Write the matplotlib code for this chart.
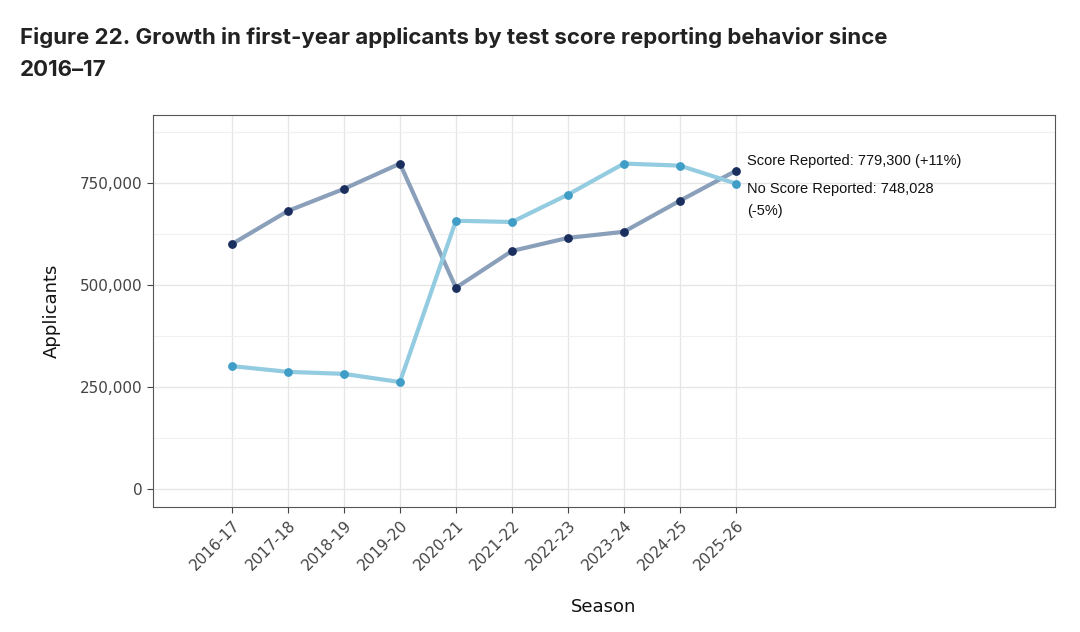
import matplotlib
matplotlib.use("Agg")
import matplotlib.pyplot as plt

seasons = ["2016-17", "2017-18", "2018-19", "2019-20", "2020-21",
           "2021-22", "2022-23", "2023-24", "2024-25", "2025-26"]
score_reported = [600000, 681000, 735000, 797000, 493000,
                  583000, 615000, 630000, 706000, 779300]
no_score = [301000, 287000, 282000, 262000, 657000,
            654000, 721000, 797000, 792000, 748028]

fig = plt.figure(figsize=(10.8, 6.32), dpi=100)
ax = fig.add_axes([153/1080, 1-507/632, (1055-153)/1080, (507-115)/632])

x = list(range(len(seasons)))
ax.plot(x, score_reported, color="#8a9fba", lw=3, zorder=2)
ax.scatter(x, score_reported, color="#1b2f5f", s=28, zorder=3)
ax.plot(x, no_score, color="#93cbe0", lw=3, zorder=2)
ax.scatter(x, no_score, color="#3f9dc6", s=28, zorder=3)

ax.text(x[-1] + 0.2, score_reported[-1] + 25000, "Score Reported: 779,300 (+11%)",
        fontsize=10.5, family="Liberation Sans", va="center", color="#111111")
ax.text(x[-1] + 0.2, no_score[-1] + 5000, "No Score Reported: 748,028\n(-5%)",
        fontsize=10.5, family="Liberation Sans", va="top", color="#111111",
        linespacing=1.75)

ax.set_xlim(-1.41, 14.7)
ax.set_ylim(-44000, 916000)
ax.set_xticks(x)
ax.set_xticklabels(seasons, rotation=45, ha="right", rotation_mode="anchor")
ax.set_yticks([0, 250000, 500000, 750000])
ax.set_yticklabels(["0", "250,000", "500,000", "750,000"])
ax.set_yticks([125000, 375000, 625000, 875000], minor=True)
ax.tick_params(axis="both", labelsize=11, colors="#444444", length=4)
ax.tick_params(axis="y", which="minor", length=0)
ax.grid(True, which="major", color="#e6e6e6", lw=1)
ax.grid(True, which="minor", axis="y", color="#f0f0f0", lw=0.8)
ax.set_axisbelow(True)
for s in ax.spines.values():
    s.set_color("#555555")
    s.set_linewidth(0.8)

ax.set_xlabel("Season", fontsize=13, labelpad=18, color="#111111")
ax.set_ylabel("Applicants", fontsize=13, labelpad=14, color="#111111")

fig.text(20/1080, 1-54/632, "Figure 22. Growth in first-year applicants by test score reporting behavior since\n2016\u201317",
         fontsize=16, fontweight="bold", family="Inter", color="#222222",
         va="center", linespacing=1.75)

fig.savefig("out.png", dpi=100, facecolor="white")
